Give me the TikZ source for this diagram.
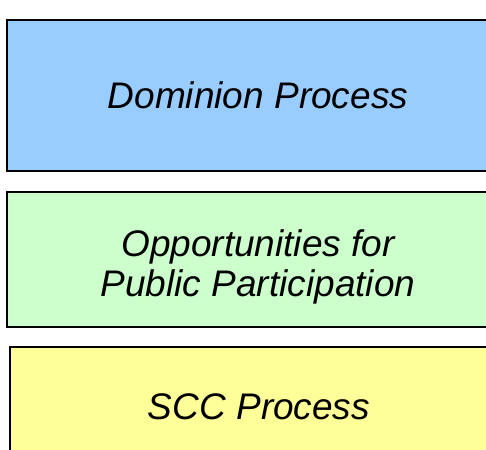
\documentclass[tikz,border=0pt]{standalone}
\usepackage{fontspec}
\setmainfont{Liberation Sans}
\usepackage{xcolor}
\definecolor{domblue}{HTML}{99CCFF}
\definecolor{partgreen}{HTML}{CCFFCC}
\definecolor{sccyellow}{HTML}{FFFF99}
\tikzset{
  stagebox/.style={draw=black, line width=2pt, align=center, minimum width=502pt,
    font=\fontsize{37}{40}\selectfont\itshape, inner sep=0pt},
  stagetext/.style={align=center, font=\fontsize{37}{40.5}\selectfont\itshape, inner sep=0pt}
}

\begin{document}
\begin{tikzpicture}[x=1pt,y=1pt]
  \useasboundingbox (0,0) rectangle (486,449);

  \draw (258,353.5) node (dom) [stagebox, fill=domblue, minimum height=151pt] {Dominion Process};

  \draw (258,189.5) node (pub) [stagebox, fill=partgreen, minimum height=135pt] {};
  \draw (258,182) node (pubtext) [stagetext] {Opportunities for\\Public Participation};

  \draw (259,42) node (scc) [stagebox, fill=sccyellow, minimum width=498pt, minimum height=120pt] {SCC Process};

\end{tikzpicture}
\end{document}
